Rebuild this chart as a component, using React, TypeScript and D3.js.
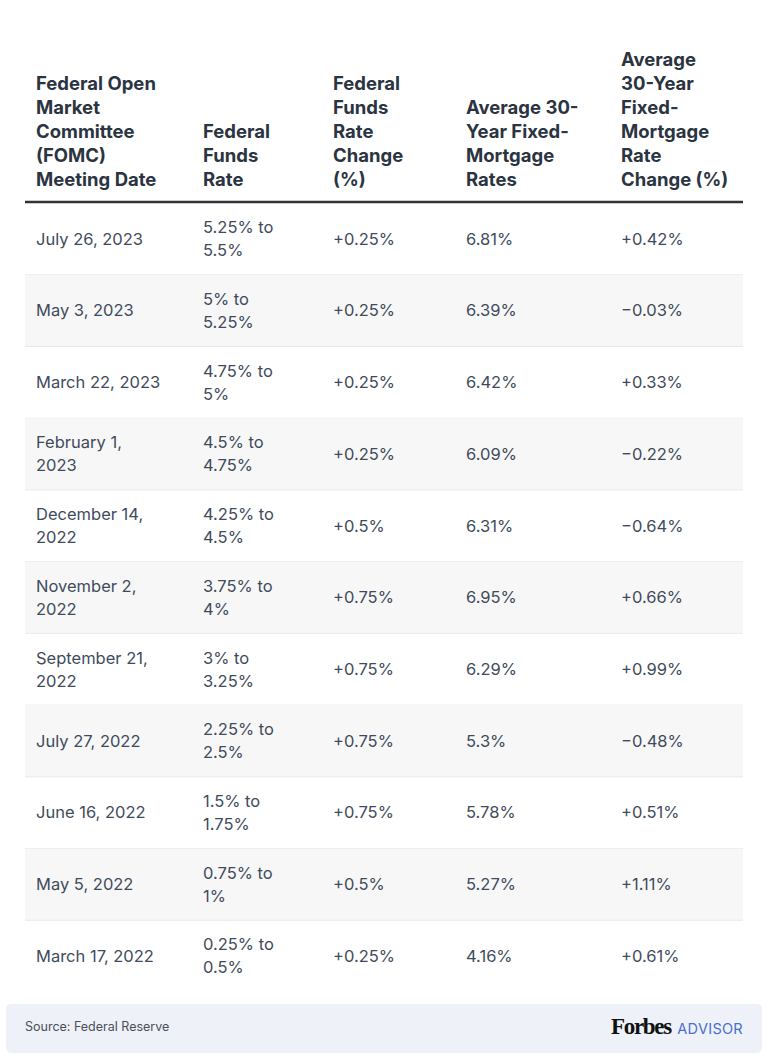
import React from "react";
import * as d3 from "d3";

// ---- data ----
const headers: string[][] = [
  ["Federal Open", "Market", "Committee", "(FOMC)", "Meeting Date"],
  ["Federal", "Funds", "Rate"],
  ["Federal", "Funds", "Rate", "Change", "(%)"],
  ["Average 30-", "Year Fixed-", "Mortgage", "Rates"],
  ["Average", "30-Year", "Fixed-", "Mortgage", "Rate", "Change (%)"],
];
const meetingDates = [
  "July 26, 2023",
  "May 3, 2023",
  "March 22, 2023",
  "February 1, 2023",
  "December 14, 2022",
  "November 2, 2022",
  "September 21, 2022",
  "July 27, 2022",
  "June 16, 2022",
  "May 5, 2022",
  "March 17, 2022",
];
const fundsRates = [
  "5.25% to 5.5%",
  "5% to 5.25%",
  "4.75% to 5%",
  "4.5% to 4.75%",
  "4.25% to 4.5%",
  "3.75% to 4%",
  "3% to 3.25%",
  "2.25% to 2.5%",
  "1.5% to 1.75%",
  "0.75% to 1%",
  "0.25% to 0.5%",
];
const fundsChange = [0.25, 0.25, 0.25, 0.25, 0.5, 0.75, 0.75, 0.75, 0.75, 0.5, 0.25];
const mortgageRates = [6.81, 6.39, 6.42, 6.09, 6.31, 6.95, 6.29, 5.3, 5.78, 5.27, 4.16];
const mortgageChange = [0.42, -0.03, 0.33, -0.22, -0.64, 0.66, 0.99, -0.48, 0.51, 1.11, 0.61];
const sourceText = "Source: Federal Reserve";

// ---- layout ----
const W = 768;
const H = 1060;
const tableLeft = 25;
const tableRight = 743;
const colX = [36, 203, 333, 466, 621];
const headerBottomLine = 202;
const tableBottom = 992;
const font = "Inter, 'Noto Sans', sans-serif";
const headColor = "#2b3441";
const bodyColor = "#3f4b5c";

const fmtChange = (v: number) => {
  const s = d3.format(".2~f")(Math.abs(v));
  return (v < 0 ? "\u2212" : "+") + s + "%";
};
const fmtRate = (v: number) => d3.format(".2~f")(v) + "%";

const wrapDate = (s: string): string[] => {
  if (s.length <= 14) return [s];
  const i = s.lastIndexOf(" ");
  return [s.slice(0, i), s.slice(i + 1)];
};
const wrapRange = (s: string): string[] => {
  const i = s.indexOf(" to ");
  return [s.slice(0, i + 3), s.slice(i + 4)];
};

export default function App() {
  const idx = meetingDates.map((_, i) => i);
  const y = d3.scaleBand<number>().domain(idx).range([headerBottomLine + 1, tableBottom]).padding(0);
  const bw = y.bandwidth();
  const lineH = 23;

  const cell = (lines: string[], x: number, cy: number, key: string) => {
    const n = lines.length;
    const start = cy - ((n - 1) * lineH) / 2;
    return (
      <text key={key} x={x} fontFamily={font} fontSize={16.5} fill={bodyColor}>
        {lines.map((l, k) => (
          <tspan key={k} x={x} y={start + k * lineH} dy="0.35em">
            {l}
          </tspan>
        ))}
      </text>
    );
  };

  return (
    <svg
      width={W}
      height={H}
      style={{ position: "absolute", left: 0, top: 0, background: "#fff" }}
    >
      <rect x={0} y={0} width={W} height={H} fill="#fff" />
      {/* headers */}
      {headers.map((lines, c) => {
        const n = lines.length;
        const lastBase = 186;
        return (
          <text key={"h" + c} fontFamily={font} fontWeight={700} fontSize={18.5} fill={headColor}>
            {lines.map((l, k) => (
              <tspan key={k} x={colX[c]} y={lastBase - (n - 1 - k) * 24}>
                {l}
              </tspan>
            ))}
          </text>
        );
      })}
      {/* rows */}
      {idx.map((i) => {
        const top = y(i)!;
        const cy = top + bw / 2;
        return (
          <g key={"r" + i}>
            {i % 2 === 1 && (
              <rect x={tableLeft} y={top} width={tableRight - tableLeft} height={bw} fill="#f7f7f7" />
            )}
            {i < idx.length - 1 && (
              <line x1={tableLeft} x2={tableRight} y1={top + bw} y2={top + bw} stroke="#e9e9e9" strokeWidth={1} />
            )}
            {cell(wrapDate(meetingDates[i]), colX[0], cy, "c0")}
            {cell(wrapRange(fundsRates[i]), colX[1], cy, "c1")}
            {cell([fmtChange(fundsChange[i])], colX[2], cy, "c2")}
            {cell([fmtRate(mortgageRates[i])], colX[3], cy, "c3")}
            {cell([fmtChange(mortgageChange[i])], colX[4], cy, "c4")}
          </g>
        );
      })}
      <line x1={tableLeft} x2={tableRight} y1={headerBottomLine} y2={headerBottomLine} stroke="#333" strokeWidth={2.5} />
      {/* footer */}
      <rect x={6} y={1004} width={756} height={49} rx={5} fill="#eef2f8" />
      <text x={25} y={1031} fontFamily={font} fontSize={12.5} fill="#4a4f57">
        {sourceText}
      </text>
      <text x={611} y={1034} fontFamily="'Liberation Serif', 'DejaVu Serif', serif" fontWeight={700} fontSize={23} fill="#111" letterSpacing={-1.3}>
        Forbes
      </text>
      <text x={743} y={1034} textAnchor="end" fontFamily={font} fontSize={14.5} fill="#4a6fd0" letterSpacing={0.3}>
        ADVISOR
      </text>
    </svg>
  );
}
